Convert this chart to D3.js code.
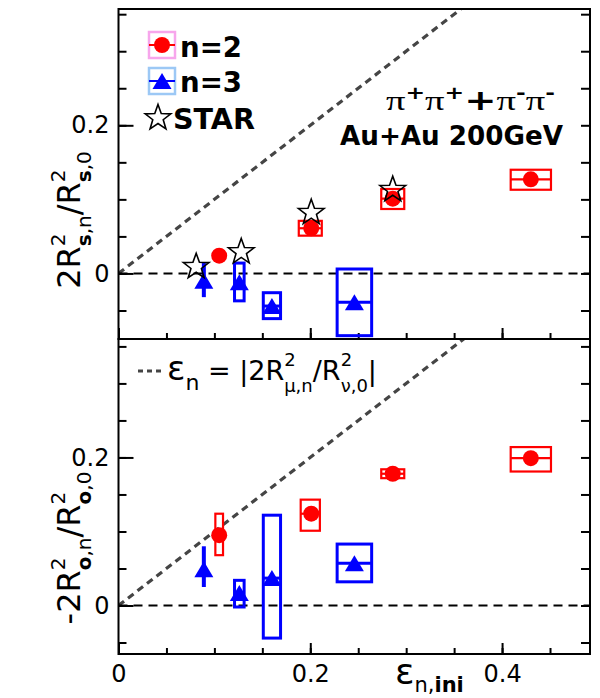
<!DOCTYPE html>
<html><head><meta charset="utf-8">
<script src="https://cdn.jsdelivr.net/npm/d3@7"></script>
<style>body{margin:0;background:#fff}svg{display:block}</style>
</head><body>
<svg id="c" width="600" height="698"></svg>
<script>
// ---------- data ----------
const xTickMajor = [0, 0.2, 0.4];
const xTickLabels = ["0", "0.2", "0.4"];
const yTickMajor = [0, 0.2];
const yTickLabels = ["0", "0.2"];
const minorStep = 0.05;

// n=2 top panel: value + systematic box [x0,x1,y0,y1] (null = no box)
const n2Top = [
  {x:0.105, y:0.024, box:null},
  {x:0.201, y:0.061, box:[0.188,0.212,0.051,0.071]},
  {x:0.286, y:0.101, box:[0.274,0.298,0.087,0.114]},
  {x:0.430, y:0.127, box:[0.409,0.451,0.113,0.140]}
];
const n3Top = [
  {x:0.089, y:-0.010, err:[-0.032,0.014], box:null},
  {x:0.126, y:-0.012, err:null, box:[0.121,0.131,-0.037,0.014]},
  {x:0.160, y:-0.044, err:null, box:[0.151,0.169,-0.061,-0.026]},
  {x:0.246, y:-0.039, err:null, box:[0.228,0.264,-0.084,0.006]}
];
const starTop = [
  {x:0.081, y:0.009},
  {x:0.128, y:0.029},
  {x:0.201, y:0.082},
  {x:0.286, y:0.113}
];
const n2Bot = [
  {x:0.105, y:0.095, box:[0.101,0.109,0.068,0.124]},
  {x:0.201, y:0.124, box:[0.190,0.210,0.101,0.143]},
  {x:0.286, y:0.178, box:[0.274,0.298,0.172,0.184]},
  {x:0.430, y:0.199, box:[0.409,0.451,0.181,0.214]}
];
const n3Bot = [
  {x:0.089, y:0.049, err:[0.025,0.080], box:null},
  {x:0.126, y:0.017, err:null, box:[0.121,0.131,-0.002,0.034]},
  {x:0.160, y:0.037, err:null, box:[0.151,0.169,-0.044,0.122]},
  {x:0.246, y:0.057, err:null, box:[0.228,0.264,0.032,0.083]}
];

// ---------- drawing ----------
const svg = d3.select("#c");
const FONT = "DejaVu Sans, Liberation Sans, sans-serif";
const RED = "#ff0000", BLUE = "#0000ff";

const x = d3.scaleLinear().domain([0, 0.4917]).range([118.5, 590]);
const panels = [
  {y: d3.scaleLinear().domain([-0.0885, 0.357]).range([339, 9]), n2:n2Top, n3:n3Top, stars:starTop},
  {y: d3.scaleLinear().domain([-0.0655, 0.36]).range([654, 339]), n2:n2Bot, n3:n3Bot, stars:[]}
];

const defs = svg.append("defs");
const triPath = "M0,-8L9.5,8L-9.5,8Z";
function starPath(R, r){
  let p = [];
  for (let i=0;i<10;i++){
    const a = -Math.PI/2 + i*Math.PI/5;
    const rr = i%2===0 ? R : r;
    p.push([rr*Math.cos(a), rr*Math.sin(a)]);
  }
  return "M" + p.map(d=>d[0].toFixed(2)+","+d[1].toFixed(2)).join("L") + "Z";
}
const STAR = starPath(13.5, 5.5);

function minorTicks(dom){
  const out = [];
  for (let v = Math.ceil(dom[0]/minorStep)*minorStep; v <= dom[1]+1e-9; v += minorStep) out.push(+v.toFixed(4));
  return out;
}

panels.forEach((P, i) => {
  const y = P.y;
  const [top, bot] = [y.range()[1], y.range()[0]];
  const g = svg.append("g");
  const cid = "clip"+i;
  defs.append("clipPath").attr("id", cid).append("rect")
    .attr("x", x.range()[0]).attr("y", top).attr("width", x.range()[1]-x.range()[0]).attr("height", bot-top);

  // diagonal y = x
  g.append("line").attr("clip-path", `url(#${cid})`)
    .attr("x1", x(0)).attr("y1", y(0)).attr("x2", x(0.5)).attr("y2", y(0.5))
    .attr("stroke", "#454545").attr("stroke-width", 3.2).attr("stroke-dasharray", "7,5");
  // zero line
  g.append("line").attr("x1", x.range()[0]).attr("x2", x.range()[1]).attr("y1", y(0)).attr("y2", y(0))
    .attr("stroke", "#000").attr("stroke-width", 2).attr("stroke-dasharray", "9,6");

  // axes ticks
  const yMinor = minorTicks(y.domain());
  const xMinor = minorTicks(x.domain());
  g.append("g").attr("transform", `translate(${x.range()[0]},0)`)
    .call(d3.axisLeft(y).tickValues(yMinor).tickSize(-8).tickFormat(""));
  g.append("g").attr("transform", `translate(${x.range()[0]},0)`)
    .call(d3.axisLeft(y).tickValues(yTickMajor).tickSize(-15).tickPadding(9)
      .tickFormat((d,k)=>yTickLabels[k]));
  g.append("g").attr("transform", `translate(${x.range()[1]},0)`)
    .call(d3.axisRight(y).tickValues(yMinor).tickSize(-9).tickFormat(""));
  g.append("g").attr("transform", `translate(0,${bot})`)
    .call(d3.axisBottom(x).tickValues(xMinor).tickSize(-6).tickFormat(""));
  g.append("g").attr("transform", `translate(0,${bot})`)
    .call(d3.axisBottom(x).tickValues(xTickMajor).tickSize(-11).tickPadding(11)
      .tickFormat((d,k)=> i===1 ? xTickLabels[k] : ""));
  g.selectAll(".domain").remove();
  g.selectAll(".tick line").attr("stroke", "#000").attr("stroke-width", 2);
  g.selectAll(".tick text").attr("font-family", FONT).attr("font-size", 24).attr("fill", "#000");

  // frame
  g.append("rect").attr("x", x.range()[0]).attr("y", top).attr("width", x.range()[1]-x.range()[0])
    .attr("height", bot-top).attr("fill", "none").attr("stroke", "#000").attr("stroke-width", 2);

  // series drawing
  function drawBoxes(data, color, sw){
    data.filter(d=>d.box).forEach(d=>{
      const b = d.box;
      g.append("rect").attr("x", x(b[0])).attr("y", y(b[3]))
        .attr("width", x(b[1])-x(b[0])).attr("height", y(b[2])-y(b[3]))
        .attr("fill", "none").attr("stroke", color).attr("stroke-width", sw);
      g.append("line").attr("x1", x(b[0])).attr("x2", x(b[1])).attr("y1", y(d.y)).attr("y2", y(d.y))
        .attr("stroke", color).attr("stroke-width", sw);
    });
  }
  drawBoxes(P.n2, RED, 2.2);
  drawBoxes(P.n3, BLUE, 3);
  P.n3.filter(d=>d.err).forEach(d=>{
    g.append("line").attr("x1", x(d.x)).attr("x2", x(d.x)).attr("y1", y(d.err[0])).attr("y2", y(d.err[1]))
      .attr("stroke", BLUE).attr("stroke-width", 4);
  });
  g.selectAll(null).data(P.n2).join("circle")
    .attr("cx", d=>x(d.x)).attr("cy", d=>y(d.y)).attr("r", 8).attr("fill", RED);
  g.selectAll(null).data(P.n3).join("path")
    .attr("d", triPath).attr("transform", d=>`translate(${x(d.x)},${y(d.y)})`).attr("fill", BLUE);
  g.selectAll(null).data(P.stars).join("path")
    .attr("d", STAR).attr("transform", d=>`translate(${x(d.x)},${y(d.y)})`)
    .attr("fill", "none").attr("stroke", "#000").attr("stroke-width", 1.6);
});

// ---------- legend (top panel) ----------
const lg = svg.append("g");
function legBox(y0, col, boxCol, marker){
  lg.append("rect").attr("x", 149).attr("y", y0-13).attr("width", 26).attr("height", 26)
    .attr("fill", "none").attr("stroke", boxCol).attr("stroke-width", 2.5);
  lg.append("line").attr("x1", 149).attr("x2", 175).attr("y1", y0).attr("y2", y0)
    .attr("stroke", col).attr("stroke-width", 2);
  if (marker === "c") lg.append("circle").attr("cx", 162).attr("cy", y0).attr("r", 8).attr("fill", col);
  else lg.append("path").attr("d", triPath).attr("transform", `translate(162,${y0})`).attr("fill", col);
}
legBox(45, RED, "#f7a6ec", "c");
legBox(81, BLUE, "#9cc8f5", "t");
lg.append("path").attr("d", STAR).attr("transform", "translate(158,118)")
  .attr("fill", "none").attr("stroke", "#000").attr("stroke-width", 1.6);
[["n=2", 180, 57, 62], ["n=3", 180, 92, 62], ["STAR", 173, 129, 82]].forEach(t=>{
  lg.append("text").attr("x", t[1]).attr("y", t[2]).text(t[0])
    .attr("font-family", FONT).attr("font-weight", "bold").attr("font-size", 28)
    .attr("textLength", t[3]).attr("lengthAdjust", "spacingAndGlyphs");
});

// pi text
const pt = svg.append("text").attr("x", 386).attr("y", 110).attr("textLength", 169)
  .attr("lengthAdjust", "spacingAndGlyphs").attr("fill", "#000");
const SERIF = "Liberation Serif, DejaVu Serif, serif";
[["π",0,28,SERIF,"normal"],["+",-11,17,FONT,"bold"],["π",11,28,SERIF,"normal"],["+",-11,17,FONT,"bold"],
 ["+",11,28,FONT,"bold"],["π",0,28,SERIF,"normal"],["-",-11,17,FONT,"bold"],["π",11,28,SERIF,"normal"],["-",-11,17,FONT,"bold"]]
 .forEach(p=>pt.append("tspan").text(p[0]).attr("dy", p[1]).attr("font-size", p[2])
   .attr("font-family", p[3]).attr("font-weight", p[4]));
svg.append("text").attr("x", 340).attr("y", 145).text("Au+Au 200GeV")
  .attr("font-family", FONT).attr("font-weight", "bold").attr("font-size", 26)
  .attr("textLength", 223).attr("lengthAdjust", "spacingAndGlyphs");

// ---------- rich text helper ----------
function rich(textSel, parts){
  let lastW = 0;
  parts.forEach(p=>{
    const ts = textSel.append("tspan").text(p.t).attr("font-size", p.size)
      .attr("font-weight", p.weight || "normal").attr("font-family", p.family || FONT);
    if (p.dy) ts.attr("dy", p.dy);
    if (p.stack) ts.attr("dx", -lastW);
    lastW = ts.node().getComputedTextLength();
  });
}

// bottom panel legend formula
svg.append("line").attr("x1", 138).attr("x2", 164).attr("y1", 371).attr("y2", 371)
  .attr("stroke", "#454545").attr("stroke-width", 3).attr("stroke-dasharray", "5,4");
const lf = svg.append("text").attr("x", 167).attr("y", 380).attr("fill", "#000");
rich(lf, [
  {t:"ε", size:34},
  {t:"n", size:22, dy:10},
  {t:" = |2R", size:27, dy:-10},
  {t:"2", size:18, dy:-14},
  {t:"μ,n", size:18, dy:26, stack:true},
  {t:"/R", size:27, dy:-12},
  {t:"2", size:18, dy:-14},
  {t:"ν,0", size:18, dy:26, stack:true},
  {t:"|", size:27, dy:-12}
]);

// y axis labels
function yLabel(cy, parts){
  const t = svg.append("text").attr("transform", `translate(80,${cy}) rotate(-90)`)
    .attr("text-anchor", "middle").attr("fill", "#000");
  rich(t, parts);
}
yLabel(220, [
  {t:"2R", size:32},
  {t:"2", size:20, dy:-15},
  {t:"s", size:20, weight:"bold", dy:26, stack:true},
  {t:",n", size:20},
  {t:"/R", size:32, dy:-11},
  {t:"2", size:20, dy:-15},
  {t:"s", size:20, weight:"bold", dy:26, stack:true},
  {t:",0", size:20}
]);
yLabel(548, [
  {t:"-2R", size:32},
  {t:"2", size:20, dy:-15},
  {t:"o", size:20, weight:"bold", dy:26, stack:true},
  {t:",n", size:20},
  {t:"/R", size:32, dy:-11},
  {t:"2", size:20, dy:-15},
  {t:"o", size:20, weight:"bold", dy:26, stack:true},
  {t:",0", size:20}
]);

// x axis label
const xt = svg.append("text").attr("x", 395).attr("y", 684).attr("fill", "#000");
rich(xt, [
  {t:"ε", size:36},
  {t:"n,", size:21, dy:8},
  {t:"ini", size:21, weight:"bold"}
]);
</script>
</body></html>
